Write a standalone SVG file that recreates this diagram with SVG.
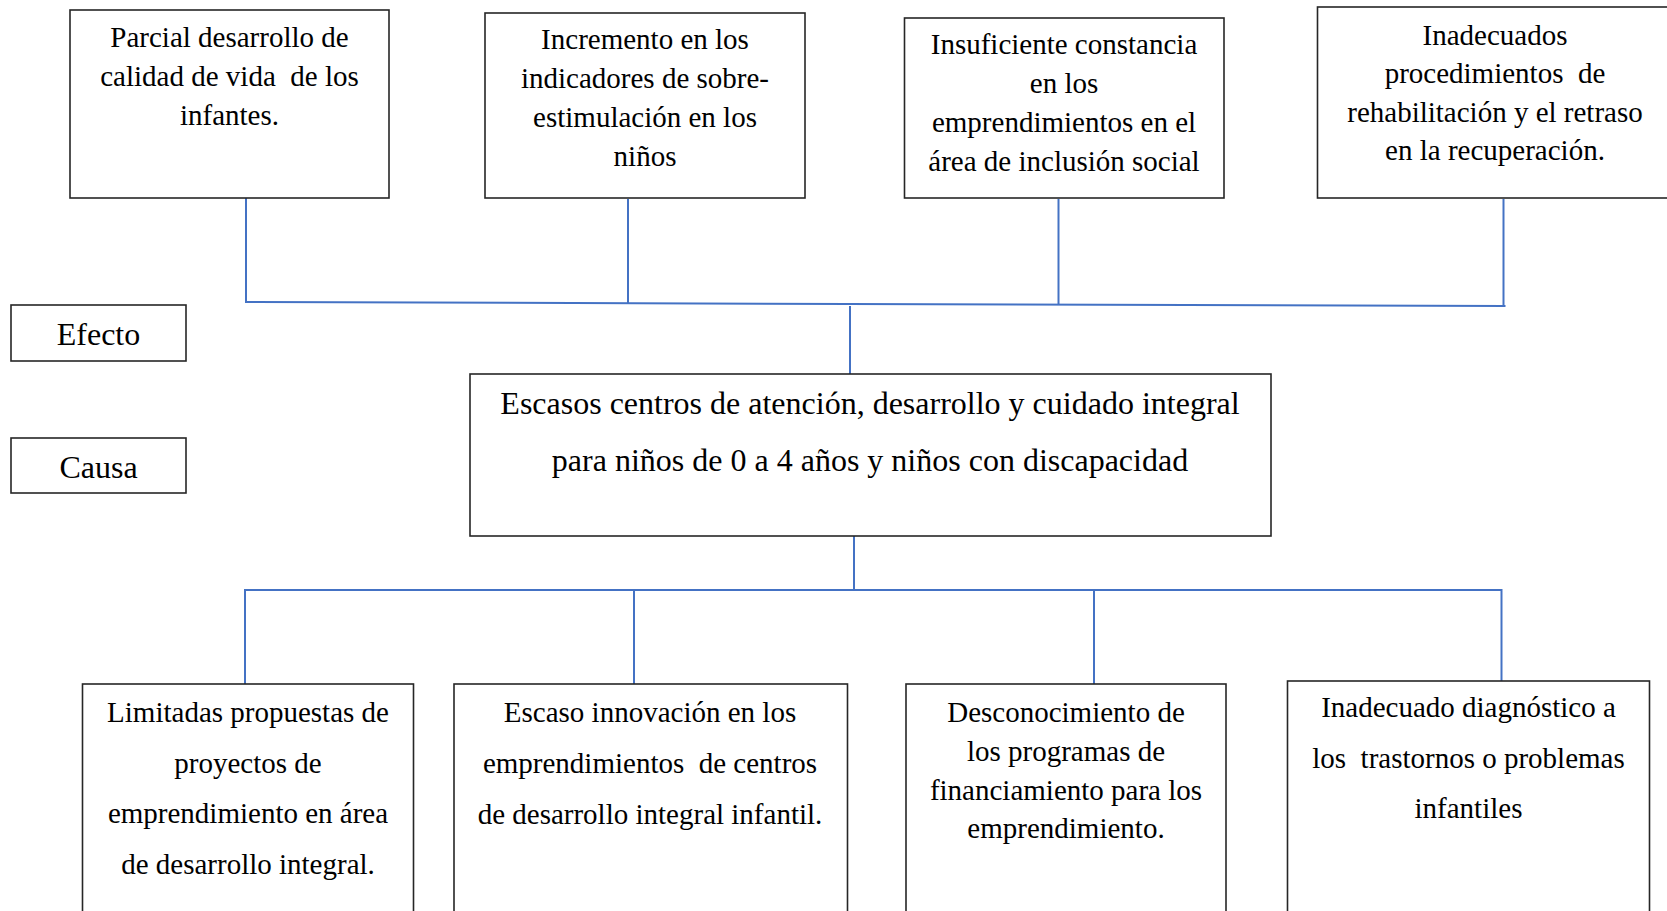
<svg xmlns="http://www.w3.org/2000/svg" width="1667" height="911" viewBox="0 0 1667 911">
<style>
.box{fill:#fff;stroke:#262626;stroke-width:1.6}
.t{font-family:"Liberation Serif","Times New Roman",serif;font-size:29px;fill:#000;text-anchor:middle;white-space:pre}
.tl{font-family:"Liberation Serif","Times New Roman",serif;font-size:32px;fill:#000;text-anchor:middle}
.c{fill:none;stroke:#4472C4;stroke-width:2}
</style>
<rect width="1667" height="911" fill="#fff"/>
<g id="connectors">
<line class="c" x1="246" y1="198" x2="246" y2="302"/>
<line class="c" x1="628" y1="199" x2="628" y2="303"/>
<line class="c" x1="1058.5" y1="199" x2="1058.5" y2="304"/>
<line class="c" x1="1503.5" y1="199" x2="1503.5" y2="306"/>
<line class="c" x1="245" y1="302" x2="1505.5" y2="306"/>
<line class="c" x1="850" y1="306" x2="850" y2="374"/>
<line class="c" x1="854" y1="536" x2="854" y2="590"/>
<line class="c" x1="245" y1="590" x2="1501.5" y2="590"/>
<line class="c" x1="245" y1="589" x2="245" y2="684"/>
<line class="c" x1="634" y1="590" x2="634" y2="684"/>
<line class="c" x1="1094" y1="590" x2="1094" y2="684"/>
<line class="c" x1="1501.5" y1="589" x2="1501.5" y2="681"/>
</g>
<g id="efecto1">
<rect class="box" x="70" y="10" width="319" height="188"/>
<text class="t" x="229.5" y="47" xml:space="preserve">Parcial desarrollo de</text>
<text class="t" x="229.5" y="86" xml:space="preserve">calidad de vida  de los</text>
<text class="t" x="229.5" y="125" xml:space="preserve">infantes.</text>
</g>
<g id="efecto2">
<rect class="box" x="485" y="13" width="320" height="185"/>
<text class="t" x="645" y="49" xml:space="preserve">Incremento en los</text>
<text class="t" x="645" y="88" xml:space="preserve">indicadores de sobre-</text>
<text class="t" x="645" y="127" xml:space="preserve">estimulación en los</text>
<text class="t" x="645" y="166" xml:space="preserve">niños</text>
</g>
<g id="efecto3">
<rect class="box" x="904.5" y="18" width="319.5" height="180"/>
<text class="t" x="1064" y="54" xml:space="preserve">Insuficiente constancia</text>
<text class="t" x="1064" y="93" xml:space="preserve">en los</text>
<text class="t" x="1064" y="132" xml:space="preserve">emprendimientos en el</text>
<text class="t" x="1064" y="171" xml:space="preserve">área de inclusión social</text>
</g>
<g id="efecto4">
<rect class="box" x="1317.5" y="7" width="360" height="191"/>
<text class="t" x="1495" y="45" xml:space="preserve">Inadecuados</text>
<text class="t" x="1495" y="83" xml:space="preserve">procedimientos  de</text>
<text class="t" x="1495" y="122" xml:space="preserve">rehabilitación y el retraso</text>
<text class="t" x="1495" y="160" xml:space="preserve">en la recuperación.</text>
</g>
<g id="efecto">
<rect class="box" x="11" y="305" width="175" height="56"/>
<text class="tl" x="98.5" y="345">Efecto</text>
</g>
<g id="causa">
<rect class="box" x="11" y="438" width="175" height="55"/>
<text class="tl" x="98.5" y="478">Causa</text>
</g>
<g id="problema">
<rect class="box" x="470" y="374" width="801" height="162"/>
<text class="tl" x="870" y="414">Escasos centros de atención, desarrollo y cuidado integral</text>
<text class="tl" x="870" y="471">para niños de 0 a 4 años y niños con discapacidad</text>
</g>
<g id="causa1">
<rect class="box" x="82.5" y="684" width="331" height="235"/>
<text class="t" x="248" y="722" xml:space="preserve">Limitadas propuestas de</text>
<text class="t" x="248" y="773" xml:space="preserve">proyectos de</text>
<text class="t" x="248" y="823" xml:space="preserve">emprendimiento en área</text>
<text class="t" x="248" y="874" xml:space="preserve">de desarrollo integral.</text>
</g>
<g id="causa2">
<rect class="box" x="454" y="684" width="393.5" height="235"/>
<text class="t" x="650" y="722" xml:space="preserve">Escaso innovación en los</text>
<text class="t" x="650" y="773" xml:space="preserve">emprendimientos  de centros</text>
<text class="t" x="650" y="824" xml:space="preserve">de desarrollo integral infantil.</text>
</g>
<g id="causa3">
<rect class="box" x="906" y="684" width="320" height="235"/>
<text class="t" x="1066" y="722" xml:space="preserve">Desconocimiento de</text>
<text class="t" x="1066" y="761" xml:space="preserve">los programas de</text>
<text class="t" x="1066" y="800" xml:space="preserve">financiamiento para los</text>
<text class="t" x="1066" y="838" xml:space="preserve">emprendimiento.</text>
</g>
<g id="causa4">
<rect class="box" x="1287.5" y="681" width="362" height="238"/>
<text class="t" x="1468.5" y="717" xml:space="preserve">Inadecuado diagnóstico a</text>
<text class="t" x="1468.5" y="768" xml:space="preserve">los  trastornos o problemas</text>
<text class="t" x="1468.5" y="818" xml:space="preserve">infantiles</text>
</g>
</svg>
